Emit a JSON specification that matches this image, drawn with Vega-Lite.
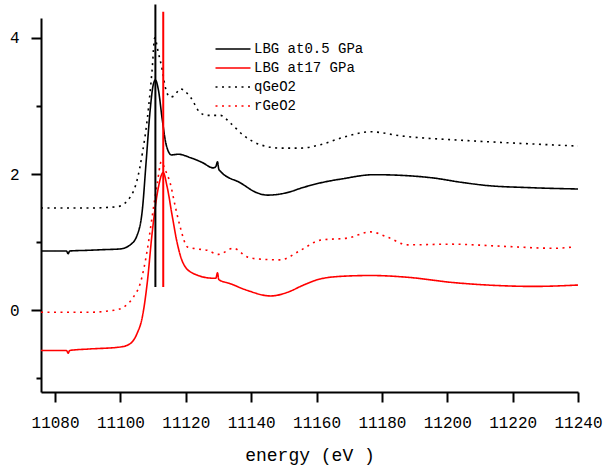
{
  "$schema": "https://vega.github.io/schema/vega-lite/v6.json",
  "width": 537,
  "height": 374,
  "autosize": {"type": "none"},
  "padding": {"left": 41, "top": 18, "right": 35, "bottom": 78},
  "background": "white",
  "config": {"view": {"stroke": null}},
  "datasets": {
    "curves": [
      {"e": 11075.7, "v": 0.87, "s": "LBG at0.5 GPa"},
      {"e": 11080, "v": 0.87, "s": "LBG at0.5 GPa"},
      {"e": 11083.5, "v": 0.87, "s": "LBG at0.5 GPa"},
      {"e": 11084, "v": 0.83, "s": "LBG at0.5 GPa"},
      {"e": 11084.5, "v": 0.87, "s": "LBG at0.5 GPa"},
      {"e": 11090, "v": 0.88, "s": "LBG at0.5 GPa"},
      {"e": 11095, "v": 0.89, "s": "LBG at0.5 GPa"},
      {"e": 11099.9, "v": 0.9, "s": "LBG at0.5 GPa"},
      {"e": 11103, "v": 0.96, "s": "LBG at0.5 GPa"},
      {"e": 11105.1, "v": 1.1, "s": "LBG at0.5 GPa"},
      {"e": 11106.7, "v": 1.47, "s": "LBG at0.5 GPa"},
      {"e": 11107.9, "v": 2.2, "s": "LBG at0.5 GPa"},
      {"e": 11109.1, "v": 2.94, "s": "LBG at0.5 GPa"},
      {"e": 11110, "v": 3.3, "s": "LBG at0.5 GPa"},
      {"e": 11110.7, "v": 3.38, "s": "LBG at0.5 GPa"},
      {"e": 11111.6, "v": 3.24, "s": "LBG at0.5 GPa"},
      {"e": 11112.8, "v": 2.8, "s": "LBG at0.5 GPa"},
      {"e": 11114, "v": 2.43, "s": "LBG at0.5 GPa"},
      {"e": 11115.6, "v": 2.28, "s": "LBG at0.5 GPa"},
      {"e": 11117.7, "v": 2.29, "s": "LBG at0.5 GPa"},
      {"e": 11121.4, "v": 2.24, "s": "LBG at0.5 GPa"},
      {"e": 11125, "v": 2.17, "s": "LBG at0.5 GPa"},
      {"e": 11128.4, "v": 2.09, "s": "LBG at0.5 GPa"},
      {"e": 11129.2, "v": 2.11, "s": "LBG at0.5 GPa"},
      {"e": 11129.7, "v": 2.18, "s": "LBG at0.5 GPa"},
      {"e": 11130.1, "v": 2.07, "s": "LBG at0.5 GPa"},
      {"e": 11130.6, "v": 2.04, "s": "LBG at0.5 GPa"},
      {"e": 11136.7, "v": 1.87, "s": "LBG at0.5 GPa"},
      {"e": 11142, "v": 1.72, "s": "LBG at0.5 GPa"},
      {"e": 11145, "v": 1.69, "s": "LBG at0.5 GPa"},
      {"e": 11148, "v": 1.7, "s": "LBG at0.5 GPa"},
      {"e": 11152, "v": 1.74, "s": "LBG at0.5 GPa"},
      {"e": 11155.1, "v": 1.79, "s": "LBG at0.5 GPa"},
      {"e": 11161.2, "v": 1.87, "s": "LBG at0.5 GPa"},
      {"e": 11168, "v": 1.93, "s": "LBG at0.5 GPa"},
      {"e": 11177.5, "v": 1.99, "s": "LBG at0.5 GPa"},
      {"e": 11186, "v": 1.98, "s": "LBG at0.5 GPa"},
      {"e": 11196, "v": 1.94, "s": "LBG at0.5 GPa"},
      {"e": 11204, "v": 1.88, "s": "LBG at0.5 GPa"},
      {"e": 11212.4, "v": 1.83, "s": "LBG at0.5 GPa"},
      {"e": 11225, "v": 1.8, "s": "LBG at0.5 GPa"},
      {"e": 11240, "v": 1.78, "s": "LBG at0.5 GPa"},

      {"e": 11075.7, "v": -0.59, "s": "LBG at17 GPa"},
      {"e": 11083.5, "v": -0.59, "s": "LBG at17 GPa"},
      {"e": 11084, "v": -0.63, "s": "LBG at17 GPa"},
      {"e": 11084.5, "v": -0.59, "s": "LBG at17 GPa"},
      {"e": 11090, "v": -0.57, "s": "LBG at17 GPa"},
      {"e": 11099.9, "v": -0.54, "s": "LBG at17 GPa"},
      {"e": 11103, "v": -0.49, "s": "LBG at17 GPa"},
      {"e": 11105.1, "v": -0.34, "s": "LBG at17 GPa"},
      {"e": 11106.7, "v": -0.1, "s": "LBG at17 GPa"},
      {"e": 11108.2, "v": 0.4, "s": "LBG at17 GPa"},
      {"e": 11109.7, "v": 1.13, "s": "LBG at17 GPa"},
      {"e": 11111.3, "v": 1.72, "s": "LBG at17 GPa"},
      {"e": 11113.1, "v": 2.02, "s": "LBG at17 GPa"},
      {"e": 11114.3, "v": 1.81, "s": "LBG at17 GPa"},
      {"e": 11115.9, "v": 1.37, "s": "LBG at17 GPa"},
      {"e": 11117.4, "v": 0.98, "s": "LBG at17 GPa"},
      {"e": 11119.2, "v": 0.69, "s": "LBG at17 GPa"},
      {"e": 11122.3, "v": 0.54, "s": "LBG at17 GPa"},
      {"e": 11128.4, "v": 0.47, "s": "LBG at17 GPa"},
      {"e": 11129.2, "v": 0.47, "s": "LBG at17 GPa"},
      {"e": 11129.7, "v": 0.55, "s": "LBG at17 GPa"},
      {"e": 11130.1, "v": 0.45, "s": "LBG at17 GPa"},
      {"e": 11133.6, "v": 0.39, "s": "LBG at17 GPa"},
      {"e": 11138.9, "v": 0.29, "s": "LBG at17 GPa"},
      {"e": 11145.9, "v": 0.21, "s": "LBG at17 GPa"},
      {"e": 11152, "v": 0.28, "s": "LBG at17 GPa"},
      {"e": 11155.1, "v": 0.35, "s": "LBG at17 GPa"},
      {"e": 11161.2, "v": 0.46, "s": "LBG at17 GPa"},
      {"e": 11168.3, "v": 0.5, "s": "LBG at17 GPa"},
      {"e": 11176.6, "v": 0.51, "s": "LBG at17 GPa"},
      {"e": 11188.8, "v": 0.48, "s": "LBG at17 GPa"},
      {"e": 11201.1, "v": 0.41, "s": "LBG at17 GPa"},
      {"e": 11212.4, "v": 0.37, "s": "LBG at17 GPa"},
      {"e": 11226.5, "v": 0.35, "s": "LBG at17 GPa"},
      {"e": 11240, "v": 0.37, "s": "LBG at17 GPa"},

      {"e": 11075.7, "v": 1.5, "s": "qGeO2"},
      {"e": 11090, "v": 1.5, "s": "qGeO2"},
      {"e": 11099, "v": 1.52, "s": "qGeO2"},
      {"e": 11103, "v": 1.66, "s": "qGeO2"},
      {"e": 11105.1, "v": 1.91, "s": "qGeO2"},
      {"e": 11106.7, "v": 2.3, "s": "qGeO2"},
      {"e": 11108.2, "v": 2.8, "s": "qGeO2"},
      {"e": 11109.7, "v": 3.53, "s": "qGeO2"},
      {"e": 11110.5, "v": 4.0, "s": "qGeO2"},
      {"e": 11111.6, "v": 3.78, "s": "qGeO2"},
      {"e": 11112.8, "v": 3.53, "s": "qGeO2"},
      {"e": 11113.7, "v": 3.28, "s": "qGeO2"},
      {"e": 11115.2, "v": 3.13, "s": "qGeO2"},
      {"e": 11116.5, "v": 3.15, "s": "qGeO2"},
      {"e": 11118.3, "v": 3.25, "s": "qGeO2"},
      {"e": 11121.4, "v": 3.13, "s": "qGeO2"},
      {"e": 11124.4, "v": 2.9, "s": "qGeO2"},
      {"e": 11126.6, "v": 2.86, "s": "qGeO2"},
      {"e": 11130.6, "v": 2.86, "s": "qGeO2"},
      {"e": 11133.6, "v": 2.75, "s": "qGeO2"},
      {"e": 11137.6, "v": 2.57, "s": "qGeO2"},
      {"e": 11142.8, "v": 2.43, "s": "qGeO2"},
      {"e": 11149, "v": 2.38, "s": "qGeO2"},
      {"e": 11155.1, "v": 2.38, "s": "qGeO2"},
      {"e": 11161.2, "v": 2.43, "s": "qGeO2"},
      {"e": 11168.3, "v": 2.54, "s": "qGeO2"},
      {"e": 11176.6, "v": 2.62, "s": "qGeO2"},
      {"e": 11185.7, "v": 2.56, "s": "qGeO2"},
      {"e": 11206.3, "v": 2.49, "s": "qGeO2"},
      {"e": 11226.5, "v": 2.44, "s": "qGeO2"},
      {"e": 11240, "v": 2.41, "s": "qGeO2"},

      {"e": 11075.7, "v": -0.03, "s": "rGeO2"},
      {"e": 11090, "v": -0.03, "s": "rGeO2"},
      {"e": 11098, "v": 0.0, "s": "rGeO2"},
      {"e": 11100.8, "v": 0.04, "s": "rGeO2"},
      {"e": 11103.9, "v": 0.19, "s": "rGeO2"},
      {"e": 11106.1, "v": 0.4, "s": "rGeO2"},
      {"e": 11108.2, "v": 0.88, "s": "rGeO2"},
      {"e": 11109.7, "v": 1.37, "s": "rGeO2"},
      {"e": 11111.3, "v": 1.87, "s": "rGeO2"},
      {"e": 11112.5, "v": 2.18, "s": "rGeO2"},
      {"e": 11113.7, "v": 2.06, "s": "rGeO2"},
      {"e": 11115.2, "v": 1.87, "s": "rGeO2"},
      {"e": 11116.8, "v": 1.52, "s": "rGeO2"},
      {"e": 11118.3, "v": 1.22, "s": "rGeO2"},
      {"e": 11120.5, "v": 0.93, "s": "rGeO2"},
      {"e": 11123.5, "v": 0.9, "s": "rGeO2"},
      {"e": 11126.6, "v": 0.88, "s": "rGeO2"},
      {"e": 11130.0, "v": 0.82, "s": "rGeO2"},
      {"e": 11134.6, "v": 0.91, "s": "rGeO2"},
      {"e": 11138.9, "v": 0.78, "s": "rGeO2"},
      {"e": 11142.8, "v": 0.75, "s": "rGeO2"},
      {"e": 11149, "v": 0.74, "s": "rGeO2"},
      {"e": 11155.1, "v": 0.88, "s": "rGeO2"},
      {"e": 11161.2, "v": 1.03, "s": "rGeO2"},
      {"e": 11169.5, "v": 1.06, "s": "rGeO2"},
      {"e": 11176.6, "v": 1.15, "s": "rGeO2"},
      {"e": 11181.8, "v": 1.07, "s": "rGeO2"},
      {"e": 11187.9, "v": 0.96, "s": "rGeO2"},
      {"e": 11201.1, "v": 0.97, "s": "rGeO2"},
      {"e": 11216.4, "v": 0.94, "s": "rGeO2"},
      {"e": 11232.6, "v": 0.91, "s": "rGeO2"},
      {"e": 11238.8, "v": 0.93, "s": "rGeO2"}
    ],
    "edges": [
      {"e": 11110.7, "y1": 0.34, "y2": 4.49, "c": "black"},
      {"e": 11113.1, "y1": 0.34, "y2": 4.38, "c": "red"}
    ]
  },
  "layer": [
    {
      "data": {"name": "curves"},
      "mark": {"type": "line", "strokeWidth": 1.6, "clip": false, "interpolate": "monotone"},
      "encoding": {
        "x": {
          "field": "e", "type": "quantitative",
          "scale": {"domain": [11075.7, 11240], "nice": false, "zero": false},
          "axis": {
            "title": "energy (eV )",
            "values": [11080, 11090, 11100, 11110, 11120, 11130, 11140, 11150, 11160, 11170, 11180, 11190, 11200, 11210, 11220, 11230, 11240],
            "labelExpr": "datum.value % 20 === 0 ? datum.value : ''",
            "format": "d",
            "grid": false,
            "domainColor": "black", "domainWidth": 2,
            "tickColor": "black", "tickWidth": 2,
            "tickSize": {"condition": {"test": "datum.value % 20 === 0", "value": 10}, "value": 5},
            "labelFont": "Liberation Mono", "labelFontSize": 16, "labelColor": "black",
            "labelPadding": 12, "labelFlush": false, "labelOverlap": false,
            "titleFont": "Liberation Mono", "titleFontSize": 18, "titleFontWeight": "normal", "titleColor": "black",
            "titlePadding": 16
          }
        },
        "y": {
          "field": "v", "type": "quantitative",
          "scale": {"domain": [-1.2, 4.29], "nice": false, "zero": false},
          "axis": {
            "title": null,
            "values": [-1, 0, 1, 2, 3, 4],
            "labelExpr": "datum.value % 2 === 0 ? datum.value : ''",
            "grid": false,
            "domainColor": "black", "domainWidth": 2,
            "tickColor": "black", "tickWidth": 2,
            "tickSize": {"condition": {"test": "datum.value % 2 === 0", "value": 10}, "value": 5},
            "labelFont": "Liberation Mono", "labelFontSize": 16, "labelColor": "black",
            "labelPadding": 12
          }
        },
        "color": {
          "field": "s", "type": "nominal",
          "scale": {"domain": ["LBG at0.5 GPa", "LBG at17 GPa", "qGeO2", "rGeO2"], "range": ["black", "red", "black", "red"]},
          "legend": {
            "title": null,
            "orient": "none",
            "legendX": 181,
            "legendY": 20,
            "symbolType": "M-1.75,0H1.75",
            "symbolSize": 400,
            "symbolStrokeWidth": 1.6,
            "labelFont": "Liberation Mono",
            "labelFontSize": 14,
            "labelColor": "black",
            "rowPadding": 1,
            "labelOffset": 10
          }
        },
        "strokeDash": {
          "field": "s", "type": "nominal",
          "scale": {"domain": ["LBG at0.5 GPa", "LBG at17 GPa", "qGeO2", "rGeO2"], "range": [[1, 0], [1, 0], [2, 4.5], [2, 4.5]]},
          "legend": null
        }
      }
    },
    {
      "data": {"name": "edges"},
      "mark": {"type": "rule", "strokeWidth": 2, "clip": false},
      "encoding": {
        "x": {"field": "e", "type": "quantitative"},
        "y": {"field": "y1", "type": "quantitative"},
        "y2": {"field": "y2"},
        "color": {"field": "c", "type": "nominal", "scale": null, "legend": null}
      }
    }
  ]
}
